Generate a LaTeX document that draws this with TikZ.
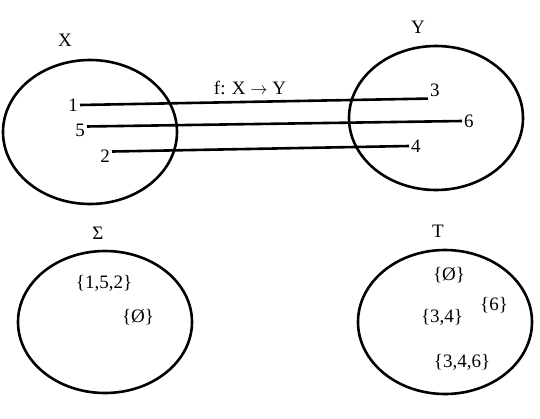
\documentclass[tikz,border=0pt]{standalone}
\usepackage{fontspec}
\setmainfont{Liberation Serif}
\begin{document}
\begin{tikzpicture}[x=1pt,y=-1pt,
    set/.style={draw,line width=2.6pt},
    lbl/.style={font=\fontsize{19}{22}\selectfont,inner sep=2pt},
    map/.style={line width=2.6pt}]
  \useasboundingbox (0,0) rectangle (540,418);
  % the four sets
  \draw[set] (90,132) ellipse (87 and 72);
  \draw[set] (436,118) ellipse (87 and 72);
  \draw[set] (105,322) ellipse (87 and 71);
  \draw[set] (445,322) ellipse (87 and 72);
  \node[lbl] (X) at (65,40) {X};
  \node[lbl] (Y) at (418,27) {Y};
  \node[lbl] (S) at (98,233) {Σ};
  \node[lbl] (T) at (438,231) {T};
  \node[lbl] (f) at (250,88) {f: X $\to$ Y};
  % points of X and Y
  \node[lbl,anchor=east] (n1) at (80,105) {1};
  \node[lbl,anchor=east] (n5) at (87,130) {5};
  \node[lbl,anchor=east] (n2) at (112,156) {2};
  \node[lbl,anchor=west] (n3) at (428,90) {3};
  \node[lbl,anchor=west] (n6) at (462,121) {6};
  \node[lbl,anchor=west] (n4) at (409,146) {4};
  % the map
  \draw[map] (n1.east) -- (n3.south west);
  \draw[map] (n5.north east) ++(0,5) -- (n6.west);
  \draw[map] (n2.north east) ++(0,4) -- (n4.west);
  % subsets
  \node[lbl] (s1) at (104,283) {\{1,5,2\}};
  \node[lbl] (s2) at (138,317) {\{Ø\}};
  \node[lbl] (t1) at (449,275) {\{Ø\}};
  \node[lbl] (t2) at (494,305) {\{6\}};
  \node[lbl] (t3) at (442,317) {\{3,4\}};
  \node[lbl] (t4) at (462,362) {\{3,4,6\}};
\end{tikzpicture}
\end{document}
